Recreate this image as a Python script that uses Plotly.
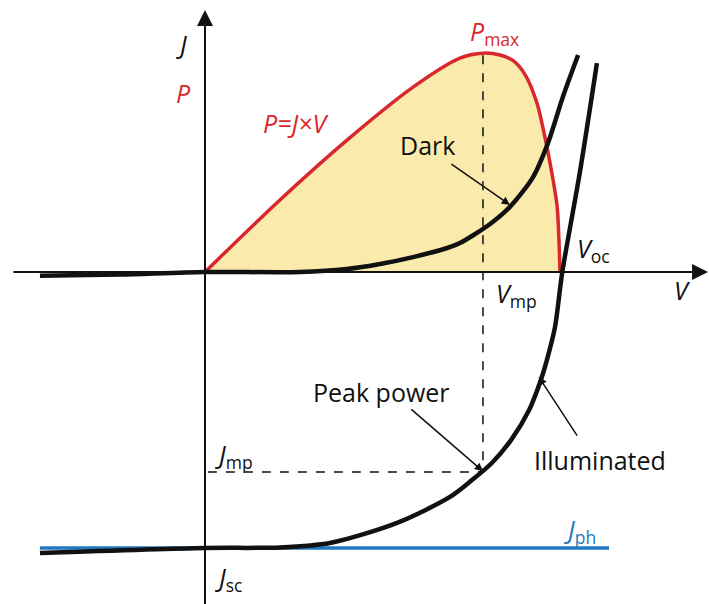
import plotly.graph_objects as go

# --------------------------------------------------
# values (V scaled so Voc ~ 1, J so Jsc = -1)
# --------------------------------------------------

dark_v = [-0.465, -0.239, 0.0, 0.268, 0.400, 0.493, 0.586, 0.682, 0.718, 0.803,
          0.859, 0.924, 0.966, 1.008, 1.051]
dark_j = [-0.014, -0.009, 0.0, 0.0, 0.011, 0.029, 0.054, 0.087, 0.105, 0.174,
          0.236, 0.344, 0.467, 0.634, 0.786]

light_v = [-0.465, 0.0, 0.211, 0.352, 0.541, 0.690, 0.752, 0.808, 0.862, 0.913,
           0.946, 0.963, 0.986, 1.006, 1.056, 1.104]
light_j = [-1.018, -1.0, -0.998, -0.982, -0.909, -0.815, -0.754, -0.692, -0.609,
           -0.500, -0.391, -0.319, -0.199, -0.004, 0.362, 0.757]

power_v = [0.0, 0.211, 0.400, 0.586, 0.718, 0.783, 0.831, 0.870, 0.904, 0.935,
           0.958, 0.977, 0.992, 0.997, 1.0]
power_p = [0.0, 0.261, 0.478, 0.670, 0.775, 0.793, 0.786, 0.764, 0.710, 0.612,
           0.486, 0.359, 0.236, 0.116, 0.0]

jph_v = [-0.465, 1.138]
jph_j = [-1.0, -1.0]

v_mp = 0.783
j_mp = -0.725
p_max = 0.785

RED = "#D9272E"
BLUE = "#1F78C1"
INK = "#111111"
FILL = "#FAEBAD"
FONT = "Open Sans"

fig = go.Figure()

# P = J x V, filled down to the V axis
fig.add_trace(go.Scatter(
    x=power_v, y=power_p,
    mode="lines",
    line=dict(color=RED, width=3.5, shape="spline", smoothing=0.8),
    fill="tozeroy",
    fillcolor=FILL,
))

# Jph
fig.add_trace(go.Scatter(
    x=jph_v, y=jph_j,
    mode="lines",
    line=dict(color=BLUE, width=3.5),
))

# dark curve
fig.add_trace(go.Scatter(
    x=dark_v, y=dark_j,
    mode="lines",
    line=dict(color=INK, width=4.5, shape="spline", smoothing=0.8),
))

# illuminated curve
fig.add_trace(go.Scatter(
    x=light_v, y=light_j,
    mode="lines",
    line=dict(color=INK, width=4.5, shape="spline", smoothing=0.8),
))

# dashed guides to the peak power point
fig.add_shape(type="line", x0=v_mp, x1=v_mp, y0=p_max, y1=j_mp,
              line=dict(color=INK, width=1.5, dash="dash"))
fig.add_shape(type="line", x0=0.008, x1=v_mp, y0=j_mp, y1=j_mp,
              line=dict(color=INK, width=1.5, dash="dash"))

# axes with arrows
fig.add_annotation(x=1.417, y=0, ax=-0.544, ay=0, axref="x", ayref="y",
                   text="", showarrow=True, arrowhead=2, arrowwidth=2,
                   arrowsize=1.6, arrowcolor=INK)
fig.add_annotation(x=0, y=0.949, ax=0, ay=-1.21, axref="x", ayref="y",
                   text="", showarrow=True, arrowhead=2, arrowwidth=2,
                   arrowsize=1.6, arrowcolor=INK)

# pointer arrows
pointers = [
    ((0.859, 0.243), (0.690, 0.395)),     # Dark
    ((0.783, -0.722), (0.577, -0.493)),   # Peak power
    ((0.940, -0.380), (1.051, -0.598)),   # Illuminated
]
for (hx, hy), (tx, ty) in pointers:
    fig.add_annotation(x=hx, y=hy, ax=tx, ay=ty, axref="x", ayref="y",
                       text="", showarrow=True, arrowhead=2, arrowwidth=1.5,
                       arrowsize=1.1, arrowcolor=INK)

# labels
labels = [
    ("<i>J</i>", -0.065, 0.826, "center", INK),
    ("<i>P</i>", -0.062, 0.649, "center", RED),
    ("<i>P</i><sub>max</sub>", 0.740, 0.866, "left", RED),
    ("<i>P=J×V</i>", 0.256, 0.540, "center", RED),
    ("Dark", 0.628, 0.460, "center", INK),
    ("<i>V</i><sub>oc</sub>", 1.042, 0.08, "left", INK),
    ("<i>V</i><sub>mp</sub>", 0.815, -0.081, "left", INK),
    ("<i>V</i>", 1.344, -0.065, "center", INK),
    ("Peak power", 0.496, -0.435, "center", INK),
    ("Illuminated", 1.113, -0.681, "center", INK),
    ("<i>J</i><sub>mp</sub>", 0.023, -0.666, "left", INK),
    ("<i>J</i><sub>ph</sub>", 1.006, -0.937, "left", BLUE),
    ("<i>J</i><sub>sc</sub>", 0.023, -1.112, "left", INK),
]
for txt, x, y, anchor, col in labels:
    fig.add_annotation(x=x, y=y, text=txt, showarrow=False,
                       xanchor=anchor, yanchor="middle",
                       font=dict(family=FONT, size=25, color=col))

fig.update_layout(
    width=709, height=604,
    margin=dict(l=0, r=0, t=0, b=0),
    paper_bgcolor="white",
    plot_bgcolor="white",
    showlegend=False,
    xaxis=dict(range=[-0.5775, 1.4197], visible=False, fixedrange=True),
    yaxis=dict(range=[-1.2029, 0.9855], visible=False, fixedrange=True),
)

# page body has a default 8px margin, drop it so the figure fills the window
fig.write_html("out.html", config={"displayModeBar": False},
               post_script="document.body.style.margin='0';")
